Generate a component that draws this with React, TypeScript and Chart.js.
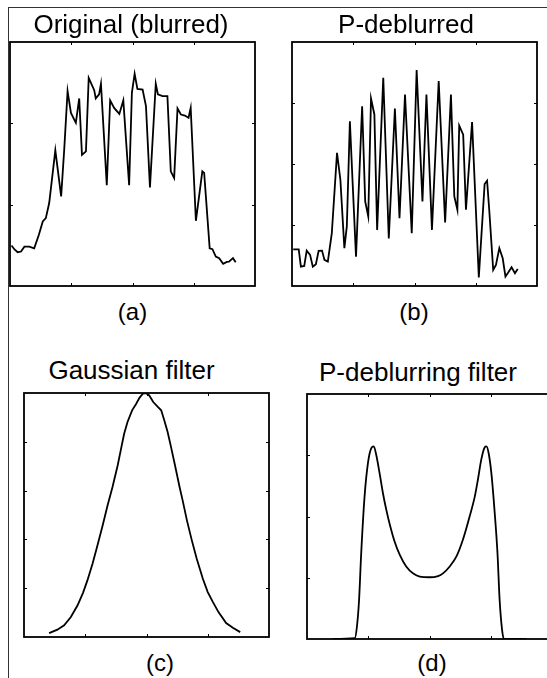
import React, { useEffect, useRef } from "react";
import { Chart, registerables } from "chart.js";

Chart.register(...registerables);

// (a) Original (blurred)
const A_X = [0.5, 1.4, 2.5, 3.6, 4.7, 6.3, 7.9, 9.4, 10.7, 11.7, 12.8, 14.8, 16.7, 17.7, 18.8, 19.9, 21.5, 22.6, 23.5, 24.8, 25.7, 27.5, 28.0, 29.1, 29.7, 31.6, 32.7, 34.0, 35.7, 37.0, 38.9, 39.8, 40.7, 41.6, 43.3, 44.4, 45.7, 47.6, 48.3, 49.8, 51.4, 52.5, 53.6, 54.7, 55.8, 57.1, 58.3, 59.0, 60.7, 62.8, 63.4, 65.2, 66.1, 67.2, 68.3, 69.6, 70.8, 71.5, 72.8, 73.7];
const A_Y = [24.9, 22.6, 20.8, 21.2, 24.2, 24.2, 23.2, 31.4, 39.7, 41.7, 51.0, 83.4, 55.1, 83.8, 119.8, 106.4, 100.3, 115.3, 80.6, 82.8, 128.0, 120.4, 115.3, 117.8, 124.3, 61.9, 114.1, 109.5, 105.8, 114.1, 61.9, 118.8, 130.5, 121.2, 120.8, 110.6, 60.6, 124.3, 117.8, 116.7, 116.7, 70.5, 66.4, 109.1, 105.4, 104.8, 103.4, 109.5, 40.1, 70.5, 69.5, 23.2, 22.6, 18.1, 17.1, 13.6, 14.8, 15.0, 17.1, 14.6];

// (b) P-deblurred
const B_X = [0.4, 2.2, 2.9, 4.0, 4.8, 5.9, 6.8, 7.8, 8.7, 9.8, 10.6, 11.7, 13.0, 14.7, 15.8, 17.1, 17.9, 18.9, 19.8, 20.9, 22.9, 23.9, 24.9, 25.8, 26.9, 27.8, 29.8, 31.6, 33.6, 35.1, 36.9, 39.1, 40.7, 42.6, 43.9, 45.7, 47.9, 50.0, 51.9, 53.0, 54.0, 54.6, 55.9, 56.8, 58.8, 61.0, 62.9, 63.7, 64.4, 65.7, 66.6, 67.7, 68.8, 69.7, 70.6, 71.7, 72.8, 73.7];
const B_Y = [30.1, 30.1, 15.9, 16.4, 29.0, 25.5, 15.9, 17.8, 28.8, 29.0, 21.4, 20.0, 43.3, 109.1, 87.1, 31.0, 48.8, 135.1, 84.4, 24.1, 147.4, 69.3, 57.0, 153.7, 140.6, 46.0, 170.7, 38.9, 145.5, 55.6, 157.0, 43.3, 177.0, 69.3, 157.0, 46.0, 168.0, 52.1, 157.0, 73.4, 62.5, 131.5, 124.1, 62.5, 134.3, 7.1, 83.6, 86.3, 62.5, 13.2, 17.3, 31.0, 22.7, 7.7, 11.0, 15.3, 10.4, 14.0];

// (c) Gaussian filter
const C_X = [8.2, 10.9, 13.1, 15.3, 17.5, 19.3, 20.7, 22.4, 24.0, 25.7, 27.3, 28.9, 30.6, 31.7, 32.7, 33.8, 35.3, 36.6, 37.7, 38.8, 39.8, 40.9, 42.2, 43.7, 44.8, 45.8, 46.9, 48.0, 49.3, 50.8, 51.8, 53.2, 54.8, 56.4, 58.4, 60.0, 61.7, 63.5, 66.0, 68.2, 70.6];
const C_Y = [0.016, 0.03, 0.048, 0.082, 0.13, 0.182, 0.232, 0.301, 0.376, 0.458, 0.54, 0.615, 0.704, 0.772, 0.833, 0.881, 0.929, 0.955, 0.98, 0.997, 1.0, 0.99, 0.963, 0.943, 0.929, 0.888, 0.84, 0.779, 0.704, 0.615, 0.56, 0.478, 0.396, 0.321, 0.239, 0.184, 0.143, 0.102, 0.057, 0.038, 0.02];

// (d) P-deblurring filter
const D_X = [8.5, 15.6, 16.3, 17.0, 17.7, 18.8, 19.9, 21.0, 21.8, 22.6, 23.7, 24.8, 25.9, 27.2, 28.6, 30.3, 32.4, 34.6, 36.8, 40.0, 42.8, 44.4, 46.6, 48.8, 50.9, 53.1, 54.8, 55.8, 56.9, 58.0, 58.6, 59.3, 60.2, 61.3, 62.2, 62.9, 63.7, 64.3, 71.6];
const D_Y = [0, 0.003, 0.05, 0.159, 0.35, 0.582, 0.718, 0.779, 0.786, 0.752, 0.677, 0.595, 0.527, 0.459, 0.398, 0.343, 0.296, 0.268, 0.255, 0.252, 0.257, 0.268, 0.296, 0.337, 0.405, 0.5, 0.582, 0.65, 0.732, 0.782, 0.786, 0.759, 0.677, 0.514, 0.35, 0.159, 0.037, 0, 0];

// tick positions (no labels shown in the figure)
const X_TICKS = [20, 40, 60];
const A_Y_TICKS = [50, 100];
const B_Y_TICKS = [50, 100, 150];
const C_Y_TICKS = [0.2, 0.4, 0.6, 0.8];
const D_Y_TICKS = [0.25, 0.5, 0.75];

const TITLES = ["Original (blurred)", "P-deblurred", "Gaussian filter", "P-deblurring filter"];
const LABELS = ["(a)", "(b)", "(c)", "(d)"];

const PAD = 6;
const FONT = '"Liberation Sans", Arial, Helvetica, sans-serif';

function makeFrame(xTicks: number[], yTicks: number[]) {
  return {
    id: "frame",
    afterDatasetsDraw(chart: any) {
      const { ctx, chartArea: a, scales } = chart;
      ctx.save();
      ctx.strokeStyle = "#000";
      ctx.lineWidth = 1.8;
      ctx.strokeRect(a.left, a.top, a.right - a.left, a.bottom - a.top);
      ctx.lineWidth = 1;
      const L = 3;
      ctx.beginPath();
      for (const v of xTicks) {
        const px = Math.round(scales.x.getPixelForValue(v)) + 0.5;
        ctx.moveTo(px, a.bottom);
        ctx.lineTo(px, a.bottom - L);
        ctx.moveTo(px, a.top);
        ctx.lineTo(px, a.top + L);
      }
      for (const v of yTicks) {
        const py = Math.round(scales.y.getPixelForValue(v)) + 0.5;
        ctx.moveTo(a.left, py);
        ctx.lineTo(a.left + L, py);
        ctx.moveTo(a.right, py);
        ctx.lineTo(a.right - L, py);
      }
      ctx.stroke();
      ctx.restore();
    },
  };
}

type PanelProps = {
  left: number;
  top: number;
  w: number;
  h: number;
  xs: number[];
  ys: number[];
  yMax: number;
  yTicks: number[];
  smooth?: boolean;
};

function Panel({ left, top, w, h, xs, ys, yMax, yTicks, smooth }: PanelProps) {
  const ref = useRef<HTMLCanvasElement | null>(null);
  useEffect(() => {
    if (!ref.current) return;
    const points = xs.map((x, i) => ({ x, y: ys[i] }));
    const chart = new Chart(ref.current, {
      type: "line",
      data: {
        datasets: [
          {
            data: points,
            borderColor: "#000",
            borderWidth: 1.8,
            pointRadius: 0,
            fill: false,
            tension: smooth ? 0.4 : 0,
            cubicInterpolationMode: smooth ? "monotone" : "default",
          } as any,
        ],
      },
      options: {
        responsive: false,
        animation: false,
        devicePixelRatio: 1,
        events: [],
        layout: { padding: PAD },
        plugins: {
          legend: { display: false },
          title: { display: false },
          tooltip: { enabled: false },
        },
        scales: {
          x: { type: "linear", min: 0, max: 80, display: false },
          y: { type: "linear", min: 0, max: yMax, display: false },
        },
      },
      plugins: [makeFrame(X_TICKS, yTicks)],
    });
    return () => chart.destroy();
  }, []);
  return (
    <canvas
      ref={ref}
      width={w + 2 * PAD}
      height={h + 2 * PAD}
      style={{
        position: "absolute",
        left: left - PAD,
        top: top - PAD,
        width: w + 2 * PAD,
        height: h + 2 * PAD,
      }}
    />
  );
}

function Text({ text, cx, top, size }: { text: string; cx: number; top: number; size: number }) {
  return (
    <div
      style={{
        position: "absolute",
        left: cx - 150,
        top,
        width: 300,
        textAlign: "center",
        fontFamily: FONT,
        fontSize: size,
        lineHeight: 1,
        color: "#000",
        whiteSpace: "nowrap",
      }}
    >
      {text}
    </div>
  );
}

export default function App() {
  return (
    <div
      style={{
        position: "absolute",
        left: 0,
        top: 0,
        width: 547,
        height: 678,
        overflow: "hidden",
        background: "#fff",
      }}
    >
      <div style={{ position: "absolute", left: 8, top: 7, width: 539, height: 1, background: "#333" }} />
      <div style={{ position: "absolute", left: 8, top: 7, width: 1, height: 671, background: "#333" }} />

      <Panel left={10} top={42} w={245} h={244} xs={A_X} ys={A_Y} yMax={150} yTicks={A_Y_TICKS} />
      <Panel left={292} top={42} w={245} h={244} xs={B_X} ys={B_Y} yMax={200} yTicks={B_Y_TICKS} />
      <Panel left={24} top={393} w={245} h={244} xs={C_X} ys={C_Y} yMax={1} yTicks={C_Y_TICKS} />
      <Panel left={307} top={394} w={245} h={245} xs={D_X} ys={D_Y} yMax={1} yTicks={D_Y_TICKS} smooth />

      <Text text={TITLES[0]} cx={131} top={11} size={26} />
      <Text text={TITLES[1]} cx={406} top={11} size={26} />
      <Text text={TITLES[2]} cx={131.5} top={357} size={26} />
      <Text text={TITLES[3]} cx={418} top={359} size={26} />

      <Text text={LABELS[0]} cx={132.5} top={300} size={24} />
      <Text text={LABELS[1]} cx={414} top={300} size={24} />
      <Text text={LABELS[2]} cx={160} top={651} size={24} />
      <Text text={LABELS[3]} cx={432} top={651} size={24} />
    </div>
  );
}
